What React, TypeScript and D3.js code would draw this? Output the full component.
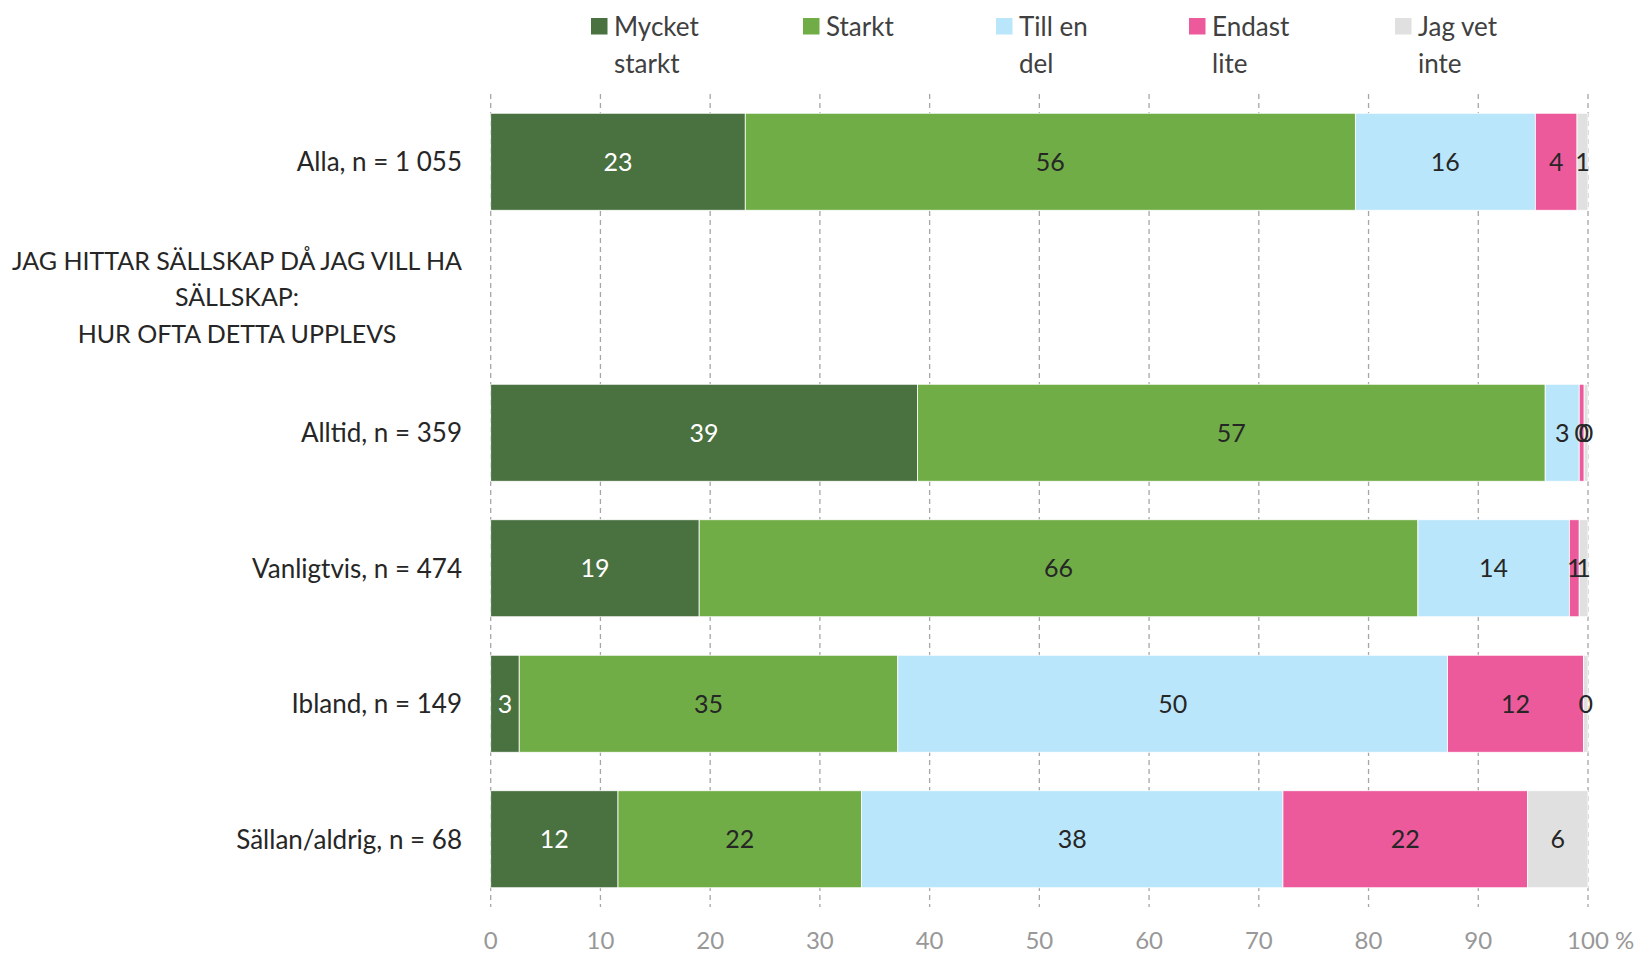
import React from "react";
import * as d3 from "d3";

const categories = ["Alla, n = 1 055", "", "Alltid, n = 359", "Vanligtvis, n = 474", "Ibland, n = 149", "Sällan/aldrig, n = 68"];
const seriesNames = [["Mycket", "starkt"], ["Starkt"], ["Till en", "del"], ["Endast", "lite"], ["Jag vet", "inte"]];
const mycketStarkt = [23.2, null, 38.9, 19.0, 2.6, 11.6];
const starkt = [55.6, null, 57.2, 65.5, 34.5, 22.2];
const tillEnDel = [16.4, null, 3.1, 13.8, 50.1, 38.4];
const endastLite = [3.8, null, 0.45, 0.9, 12.4, 22.3];
const jagVetInte = [1.0, null, 0.35, 0.8, 0.4, 5.5];
const headerLines = ["JAG HITTAR SÄLLSKAP DÅ JAG VILL HA", "SÄLLSKAP:", "HUR OFTA DETTA UPPLEVS"];
const ticks = [0, 10, 20, 30, 40, 50, 60, 70, 80, 90, 100];

const colors = ["#4A7140", "#70AD47", "#BAE6FB", "#EC5A9C", "#E0E0E0"];
const labelColors = ["#FFFFFF", "#262626", "#262626", "#262626", "#262626"];
const legendX = [591, 803, 996, 1189, 1395];

const W = 1639, H = 953;
const left = 490.7, right = 1588, top = 94, bottom = 907;
const FONT = "Lato, 'Open Sans', sans-serif";

export default function App() {
  const x = d3.scaleLinear().domain([0, 100]).range([left, right]);
  const y = d3.scaleBand<number>().domain(d3.range(categories.length)).range([top, bottom]).paddingInner(0.284).paddingOuter(0.142);
  const series = [mycketStarkt, starkt, tillEnDel, endastLite, jagVetInte];
  const rows = categories.map((c, i) => {
    let acc = 0;
    return series.map((s, k) => {
      const v = s[i];
      if (v == null) return null;
      const x0 = acc;
      acc += v;
      return { k, v, x0, x1: acc };
    });
  });
  return (
    <svg width={W} height={H} style={{ position: "absolute", left: 0, top: 0, background: "#fff" }} fontFamily={FONT}>
      {ticks.map((t) => (
        <line key={"g" + t} x1={x(t)} x2={x(t)} y1={top} y2={bottom} stroke="#A6A6A6" strokeWidth={1.3} strokeDasharray="5,4" />
      ))}
      {rows.map((r, i) =>
        r.map((seg, k) =>
          seg ? (
            <rect key={`r${i}-${k}`} x={x(seg.x0)} y={y(i)} width={x(seg.x1) - x(seg.x0)} height={y.bandwidth()} fill={colors[k]} stroke="#FFFFFF" strokeWidth={0.8} />
          ) : null
        )
      )}
      {rows.map((r, i) =>
        r.map((seg, k) =>
          seg ? (
            <text key={`t${i}-${k}`} x={(x(seg.x0) + x(seg.x1)) / 2} y={(y(i) as number) + y.bandwidth() / 2} dy="0.36em" textAnchor="middle" fontSize={25} fill={labelColors[k]}>
              {Math.round(seg.v)}
            </text>
          ) : null
        )
      )}
      {categories.map((c, i) => (
        <text key={"c" + i} x={462} y={(y(i) as number) + y.bandwidth() / 2} dy="0.36em" textAnchor="end" fontSize={26} fill="#262626">
          {c}
        </text>
      ))}
      {headerLines.map((l, j) => (
        <text key={"h" + j} x={237} y={(y(1) as number) + y.bandwidth() / 2 + (j - 1) * 36.5} dy="0.36em" textAnchor="middle" fontSize={25} fill="#262626">
          {l}
        </text>
      ))}
      {ticks.map((t) => (
        <text key={"x" + t} x={x(t)} y={940} dy="0.36em" textAnchor="middle" fontSize={24} fill="#989898">
          {t}
        </text>
      ))}
      <text x={x(100) + 27} y={940} dy="0.36em" textAnchor="start" fontSize={24} fill="#989898">%</text>
      {seriesNames.map((n, k) => (
        <g key={"l" + k}>
          <rect x={legendX[k]} y={18} width={16.5} height={16.5} fill={colors[k]} />
          {n.map((line, j) => (
            <text key={j} x={legendX[k] + 23} y={36 + j * 36.5} fontSize={26} fill="#404040">
              {line}
            </text>
          ))}
        </g>
      ))}
    </svg>
  );
}
